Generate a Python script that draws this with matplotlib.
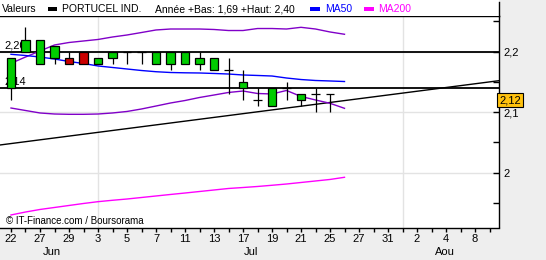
import matplotlib.pyplot as plt
from matplotlib.patches import Rectangle
from matplotlib.lines import Line2D
import matplotlib.transforms as mtransforms

plt.rcParams['font.family'] = ['Liberation Sans', 'DejaVu Sans']

# daily candles (open, high, low, close)
opens  = [2.14, 2.20, 2.18, 2.19, 2.19, 2.20, 2.18, 2.19, 2.20, 2.20, 2.18, 2.18,
          2.18, 2.18, 2.17, 2.17, 2.14, 2.12, 2.11, 2.14, 2.12, 2.13, 2.13]
highs  = [2.19, 2.24, 2.22, 2.21, 2.20, 2.20, 2.19, 2.20, 2.20, 2.20, 2.20, 2.20,
          2.20, 2.20, 2.19, 2.19, 2.17, 2.14, 2.14, 2.15, 2.13, 2.14, 2.13]
lows   = [2.12, 2.20, 2.18, 2.18, 2.18, 2.18, 2.18, 2.18, 2.18, 2.18, 2.18, 2.17,
          2.18, 2.17, 2.17, 2.13, 2.12, 2.11, 2.11, 2.12, 2.11, 2.10, 2.10]
closes = [2.19, 2.22, 2.22, 2.21, 2.18, 2.18, 2.19, 2.20, 2.20, 2.20, 2.20, 2.20,
          2.20, 2.19, 2.19, 2.17, 2.15, 2.12, 2.14, 2.14, 2.13, 2.13, 2.13]

ma50 = [2.1957, 2.1937, 2.1912, 2.1879, 2.1838, 2.1805, 2.1764, 2.1739, 2.1714, 2.1689,
        2.1669, 2.1656, 2.1651, 2.1648, 2.1640, 2.1631, 2.1615, 2.1607, 2.1598, 2.1565,
        2.1540, 2.1524, 2.1516, 2.1507]
band_up = [2.1808, 2.1912, 2.2012, 2.2111, 2.2152, 2.2177, 2.2202, 2.2243, 2.2276, 2.2317,
           2.2359, 2.2375, 2.2375, 2.2375, 2.2367, 2.2350, 2.2350, 2.2383, 2.2383, 2.2375,
           2.2403, 2.2375, 2.2326, 2.2288]
band_low = [2.1069, 2.1028, 2.0987, 2.0970, 2.0965, 2.0965, 2.0970, 2.0987, 2.1012, 2.1053,
            2.1102, 2.1152, 2.1193, 2.1243, 2.1284, 2.1326, 2.1350, 2.1309, 2.1301, 2.1359,
            2.1260, 2.1202, 2.1147, 2.1064]
ma200 = [1.9301, 1.9350, 1.9392, 1.9425, 1.9458, 1.9491, 1.9521, 1.9544, 1.9565, 1.9590,
         1.9615, 1.9640, 1.9664, 1.9689, 1.9714, 1.9739, 1.9755, 1.9772, 1.9792, 1.9813,
         1.9838, 1.9863, 1.9888, 1.9924]

trend_x = [-0.76, 33.66]
trend_y = [2.0458, 2.1521]
levels = [2.20, 2.14]
level_labels = ['2,20', '2,14']
last_price = 2.12

day_labels = ['22', '27', '29', '3', '5', '7', '11', '13', '17', '19', '21', '25',
              '27', '31', '2', '4', '8']
months = ['Jun', 'Jul', 'Aou']
month_pos = [2.8, 16.55, 29.9]
vgrid = [6, 27]

W, H = 546, 260
fig = plt.figure(figsize=(W / 100, H / 100), dpi=100, facecolor='#eeeeee')
# white header strip
fig.patches.append(Rectangle((0, 1 - 16 / H), 499 / W, 16 / H, transform=fig.transFigure,
                             facecolor='white', edgecolor='none', zorder=0))
fig.lines.append(Line2D([499 / W, 499 / W], [1 - 16 / H, 1 - 2 / H], transform=fig.transFigure,
                        color='black', lw=1))

ax = fig.add_axes([0, 1 - 227.5 / H, 499 / W, 211.5 / H])
ax.set_facecolor('white')
ax.set_xlim(-0.7586, 33.655)
ax.set_ylim(1.9094, 2.2590)

# grid
for g in [2.0, 2.1, 2.2]:
    ax.axhline(g, color='#e3e3e3', lw=1, zorder=0)
for g in vgrid:
    ax.axvline(g, color='#e3e3e3', lw=1, zorder=0)

# level lines
blend = mtransforms.blended_transform_factory(ax.transAxes, ax.transData)
for lv, lab in zip(levels, level_labels):
    ax.axhline(lv, color='black', lw=1.3, zorder=2)
    ax.annotate(lab, xy=(0.008, lv), xycoords=blend, xytext=(0, 1), textcoords='offset points',
                ha='left', va='bottom', fontsize=8, zorder=1)

xs = list(range(len(ma50)))
ax.plot(trend_x, trend_y, color='black', lw=1, zorder=2)
ax.plot(xs, band_up, color='#8000c8', lw=1, zorder=2)
ax.plot(xs, band_low, color='#8000c8', lw=1, zorder=2)
ax.plot(xs, ma50, color='#0000ff', lw=1, zorder=2)
ax.plot(xs, ma200, color='#ff00ff', lw=1, zorder=2)

bw = 0.56
for i, (o, h, l, c) in enumerate(zip(opens, highs, lows, closes)):
    ax.vlines(i, l, h, color='black', lw=0.9, zorder=3)
    if o == c:
        ax.hlines(o, i - bw / 2, i + bw / 2, color='black', lw=0.9, zorder=4)
    else:
        col = '#00cc00' if c > o else '#cc0000'
        ax.add_patch(Rectangle((i - bw / 2, min(o, c)), bw, abs(c - o), facecolor=col,
                               edgecolor='black', lw=0.9, zorder=4))

# axes styling
ax.spines['left'].set_visible(False)
for s in ['top', 'right', 'bottom']:
    ax.spines[s].set_linewidth(1)

ax.set_xticks(range(0, 2 * len(day_labels), 2))
ax.set_xticklabels(day_labels, fontsize=8)
ax.set_xticks(range(1, 2 * len(day_labels) + 1, 2), minor=True)
ax.tick_params(axis='x', which='both', direction='out', length=3, width=1, pad=2)

ax.yaxis.tick_right()
ax.set_yticks([2.0, 2.1, 2.2])
ax.set_yticklabels(['2', '2,1', '2,2'], fontsize=8)
ax.set_yticks([1.95, 2.05, 2.15, 2.25], minor=True)
ax.tick_params(axis='y', which='both', direction='in', length=4, width=1, pad=3)

for m, p in zip(months, month_pos):
    ax.text(p, -0.116, m, transform=mtransforms.blended_transform_factory(ax.transData, ax.transAxes),
            ha='center', va='center', fontsize=8)

ax.text(1.0, last_price, '2,12', transform=blend, ha='left', va='center', fontsize=8,
        clip_on=False, zorder=10,
        bbox=dict(boxstyle='square,pad=0.2', facecolor='#ffc20e', edgecolor='black', lw=0.8))

ax.text(0.012, 0.031, '\u00a9 IT-Finance.com / Boursorama', transform=ax.transAxes,
        ha='left', va='center', fontsize=7)

# header
def fx(px):
    return px / W

def fy(py):
    return 1 - py / H

hfs = 7.5
fig.text(fx(2), fy(9), 'Valeurs', fontsize=hfs, va='center', ha='left')
fig.patches.append(Rectangle((fx(48), fy(11)), 9 / W, 4 / H, transform=fig.transFigure,
                             facecolor='black', edgecolor='none'))
fig.text(fx(62), fy(9), 'PORTUCEL IND.', fontsize=hfs, va='center', ha='left')
fig.text(fx(155), fy(9), 'Année +Bas: 1,69 +Haut: 2,40', fontsize=hfs, va='center', ha='left')
fig.patches.append(Rectangle((fx(310), fy(11)), 10 / W, 4 / H, transform=fig.transFigure,
                             facecolor='#0000ff', edgecolor='none'))
fig.text(fx(325), fy(9), 'MA50', fontsize=hfs, va='center', ha='left', color='#0000ff')
fig.patches.append(Rectangle((fx(364), fy(11)), 10 / W, 4 / H, transform=fig.transFigure,
                             facecolor='#ff00ff', edgecolor='none'))
fig.text(fx(378), fy(9), 'MA200', fontsize=hfs, va='center', ha='left', color='#ff00ff')

fig.savefig('out.png', dpi=100, facecolor=fig.get_facecolor())
